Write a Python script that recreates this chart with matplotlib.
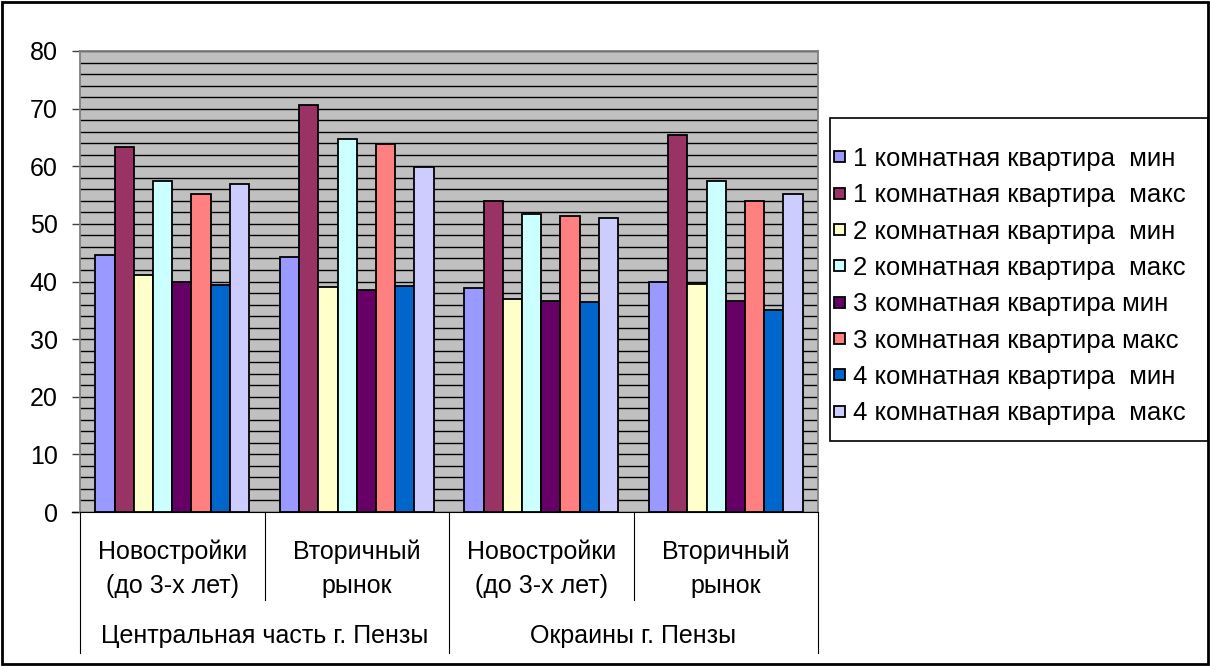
import numpy as np
import matplotlib.pyplot as plt
from matplotlib.patches import Rectangle
import matplotlib.transforms as mtransforms

plt.rcParams['font.family'] = ['Liberation Sans', 'DejaVu Sans']

# данные
subcats = [['Новостройки', '(до 3-х лет)'], ['Вторичный', 'рынок'],
           ['Новостройки', '(до 3-х лет)'], ['Вторичный', 'рынок']]
groups = ['Центральная часть г. Пензы', 'Окраины г. Пензы']

series = ['1 комнатная квартира  мин', '1 комнатная квартира  макс',
          '2 комнатная квартира  мин', '2 комнатная квартира  макс',
          '3 комнатная квартира мин', '3 комнатная квартира макс',
          '4 комнатная квартира  мин', '4 комнатная квартира  макс']

k1_min = [44.6, 44.3, 38.8, 39.9]
k1_max = [63.3, 70.6, 54.0, 65.4]
k2_min = [41.1, 39.1, 37.0, 39.6]
k2_max = [57.5, 64.8, 51.7, 57.5]
k3_min = [39.9, 38.5, 36.7, 36.7]
k3_max = [55.2, 63.9, 51.4, 54.0]
k4_min = [39.4, 39.3, 36.4, 35.0]
k4_max = [56.9, 59.8, 51.0, 55.1]
values = [k1_min, k1_max, k2_min, k2_max, k3_min, k3_max, k4_min, k4_max]

colors = ['#9999FF', '#993366', '#FFFFCC', '#CCFFFF',
          '#660066', '#FF8080', '#0066CC', '#CCCCFF']

FS = 18
W, H = 1210, 666
fig = plt.figure(figsize=(W / 100, H / 100), dpi=100)

def fx(px):
    return px / W

def fy(py):
    return 1 - py / H

# рамка рисунка и рамка легенды
fig.patches.append(Rectangle((fx(2), fy(664)), fx(1206), (664 - 2) / H,
                             transform=fig.transFigure, fill=False,
                             edgecolor='black', linewidth=2))
fig.patches.append(Rectangle((fx(830), fy(441)), fx(1208 - 830), (441 - 118) / H,
                             transform=fig.transFigure, fill=False,
                             edgecolor='black', linewidth=1.2))

left, right, top, bottom = 80, 818, 51, 512
ax = fig.add_axes([fx(left), fy(bottom), fx(right - left), (bottom - top) / H])
ax.set_facecolor('#C0C0C0')

x = np.arange(len(k1_min))
w = 0.104
for i, (vals, c, name) in enumerate(zip(values, colors, series)):
    ax.bar(x + (i - 3.5) * w, vals, w, color=c, edgecolor='black', linewidth=1.3,
           label=name, zorder=3)

ax.set_xlim(-0.5, len(x) - 0.5)
ax.set_ylim(0, 80)
ax.set_yticks(np.arange(0, 81, 10))
ax.set_yticks(np.arange(0, 81, 2), minor=True)
ax.grid(True, which='both', axis='y', color='black', linewidth=1.0, zorder=1)
ax.tick_params(axis='y', which='major', labelsize=FS, length=6, width=1,
               color='#404040', direction='out', pad=10)
ax.tick_params(axis='y', which='minor', length=0)
ax.set_xticks([])
for s in ['top', 'right', 'left']:
    ax.spines[s].set_color('#808080')
    ax.spines[s].set_linewidth(1.3)
ax.spines['bottom'].set_color('black')

# подписи категорий
ph = bottom - top
trans = mtransforms.blended_transform_factory(ax.transData, ax.transAxes)

def ay(py):
    return -(py - bottom) / ph

for i, (l1, l2) in enumerate(subcats):
    ax.text(i, ay(552), l1, transform=trans, ha='center', va='center', fontsize=FS)
    ax.text(i, ay(586), l2, transform=trans, ha='center', va='center', fontsize=FS)
for j, g in enumerate(groups):
    ax.text(2 * j + 0.5, ay(636), g, transform=trans, ha='center', va='center', fontsize=FS)

for xs in [0.5, 2.5]:
    ax.plot([xs, xs], [0, ay(600)], transform=trans, color='black', linewidth=0.8, clip_on=False)
for xs in [-0.5, 1.5, 3.5]:
    ax.plot([xs, xs], [0, ay(653)], transform=trans, color='black', linewidth=0.8, clip_on=False)
ax.plot([-0.5, -0.5 - 8 / (right - left) * 4], [0, 0], transform=trans, color='black',
        linewidth=1, clip_on=False)

leg = fig.legend(loc='upper left', bbox_to_anchor=(fx(834), fy(147)), fontsize=18.5,
                 frameon=False, handlelength=0.44, handleheight=0.28, handletextpad=0.3,
                 labelspacing=0.48, borderpad=0, borderaxespad=0)

fig.savefig('out.png', dpi=100)
